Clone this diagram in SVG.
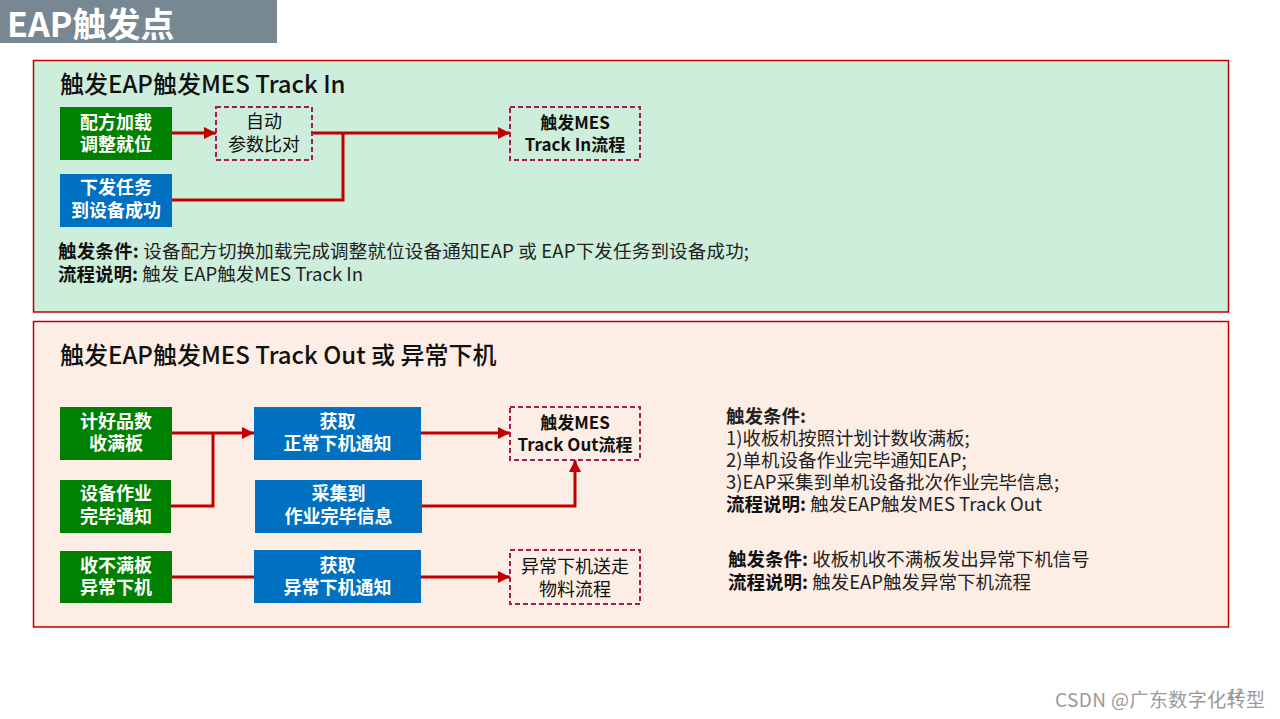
<svg xmlns="http://www.w3.org/2000/svg" width="1280" height="719" viewBox="0 0 1280 719">
<defs>
<style>
.t{font-family:"Noto Sans CJK SC","Liberation Sans",sans-serif;}
.panel{stroke:#c00000;stroke-width:1.5;}
.g{fill:#008000;}
.b{fill:#0070c0;}
.d{fill:none;stroke:#a01e50;stroke-width:2;stroke-dasharray:5,3;}
.wt{fill:#fff;font-size:18px;font-weight:bold;text-anchor:middle;}
.kt{fill:#111;font-size:18px;text-anchor:middle;}
.kb{fill:#111;font-size:17px;font-weight:bold;text-anchor:middle;}
.h{fill:#111;font-size:24px;font-weight:500;}
.p{fill:#222;font-size:18.5px;}
.c{fill:none;stroke:#c00000;stroke-width:3;}
</style>
<marker id="ah" viewBox="0 0 10 10" refX="10" refY="5" markerWidth="4" markerHeight="4" orient="auto" markerUnits="strokeWidth">
<path d="M0,0 L10,5 L0,10 z" fill="#c00000"/>
</marker>
</defs>
<rect width="1280" height="719" fill="#ffffff"/>
<g id="title">
<rect x="0" y="0" width="277" height="43" fill="#788893"/>
<text class="t" x="7" y="37" font-size="34" font-weight="bold" fill="#fff">EAP触发点</text>
</g>
<g id="panel1">
<rect class="panel" x="33.5" y="60.5" width="1195" height="251.5" fill="#cdeedb"/>
<text class="t h" x="60" y="93">触发EAP触发MES Track In</text>
<text class="t p" x="58" y="258" textLength="691" lengthAdjust="spacing"><tspan font-weight="bold" fill="#111">触发条件:</tspan> 设备配方切换加载完成调整就位设备通知EAP 或 EAP下发任务到设备成功;</text>
<text class="t p" x="58" y="281"><tspan font-weight="bold" fill="#111">流程说明:</tspan> 触发 EAP触发MES Track In</text>
</g>
<g id="panel2">
<rect class="panel" x="33.5" y="321.5" width="1195" height="305.5" fill="#fdeee5"/>
<text class="t h" x="60" y="364">触发EAP触发MES Track Out 或 异常下机</text>
<text class="t p" x="726" y="423" font-weight="bold" fill="#111">触发条件:</text>
<text class="t p" x="726" y="445">1)收板机按照计划计数收满板;</text>
<text class="t p" x="726" y="467">2)单机设备作业完毕通知EAP;</text>
<text class="t p" x="726" y="489">3)EAP采集到单机设备批次作业完毕信息;</text>
<text class="t p" x="726" y="511"><tspan font-weight="bold" fill="#111">流程说明:</tspan> 触发EAP触发MES Track Out</text>
<text class="t p" x="728" y="566"><tspan font-weight="bold" fill="#111">触发条件:</tspan> 收板机收不满板发出异常下机信号</text>
<text class="t p" x="728" y="589"><tspan font-weight="bold" fill="#111">流程说明:</tspan> 触发EAP触发异常下机流程</text>
</g>
<g id="connectors">
<line class="c" x1="172" y1="133" x2="216" y2="133" marker-end="url(#ah)"/>
<line class="c" x1="312" y1="133" x2="510" y2="133" marker-end="url(#ah)"/>
<polyline class="c" points="172,200 343,200 343,133"/>
<line class="c" x1="172" y1="433" x2="254" y2="433" marker-end="url(#ah)"/>
<polyline class="c" points="171,506 213,506 213,433"/>
<line class="c" x1="421" y1="433" x2="510" y2="433" marker-end="url(#ah)"/>
<polyline class="c" points="422,506 575,506 575,460" marker-end="url(#ah)"/>
<line class="c" x1="172" y1="577" x2="254" y2="577"/>
<line class="c" x1="421" y1="577" x2="510" y2="577" marker-end="url(#ah)"/>
</g>
<g id="n-recipe">
<rect class="g" x="60" y="107" width="112" height="53"/>
<text class="t wt" x="116" y="129">配方加载</text>
<text class="t wt" x="116" y="151">调整就位</text>
</g>
<g id="n-auto">
<rect class="d" x="216" y="107" width="96" height="53"/>
<text class="t kt" x="264" y="128">自动</text>
<text class="t kt" x="264" y="151">参数比对</text>
</g>
<g id="n-trackin">
<rect class="d" x="510" y="107" width="130" height="53"/>
<text class="t kb" x="575" y="129">触发MES</text>
<text class="t kb" x="575" y="151">Track In流程</text>
</g>
<g id="n-task">
<rect class="b" x="60" y="174" width="112" height="53"/>
<text class="t wt" x="116" y="194">下发任务</text>
<text class="t wt" x="116" y="217">到设备成功</text>
</g>
<g id="n-count">
<rect class="g" x="60" y="407" width="112" height="53"/>
<text class="t wt" x="116" y="428">计好品数</text>
<text class="t wt" x="116" y="450">收满板</text>
</g>
<g id="n-done">
<rect class="g" x="60" y="480" width="111" height="53"/>
<text class="t wt" x="116" y="500">设备作业</text>
<text class="t wt" x="116" y="523">完毕通知</text>
</g>
<g id="n-notfull">
<rect class="g" x="60" y="551" width="112" height="52"/>
<text class="t wt" x="116" y="572">收不满板</text>
<text class="t wt" x="116" y="594">异常下机</text>
</g>
<g id="n-normal">
<rect class="b" x="254" y="407" width="167" height="53"/>
<text class="t wt" x="337.5" y="428">获取</text>
<text class="t wt" x="337.5" y="450">正常下机通知</text>
</g>
<g id="n-collect">
<rect class="b" x="255" y="480" width="167" height="53"/>
<text class="t wt" x="338.5" y="500">采集到</text>
<text class="t wt" x="338.5" y="523">作业完毕信息</text>
</g>
<g id="n-abnormal">
<rect class="b" x="254" y="550" width="167" height="53"/>
<text class="t wt" x="337.5" y="572">获取</text>
<text class="t wt" x="337.5" y="594">异常下机通知</text>
</g>
<g id="n-trackout">
<rect class="d" x="510" y="407" width="130" height="53"/>
<text class="t kb" x="575" y="429">触发MES</text>
<text class="t kb" x="575" y="451">Track Out流程</text>
</g>
<g id="n-material">
<rect class="d" x="510" y="550" width="130" height="54"/>
<text class="t kt" x="575" y="573">异常下机送走</text>
<text class="t kt" x="575" y="596">物料流程</text>
</g>
<g id="footer">
<text class="t" x="1055" y="707" font-size="19" fill="#9a9a9a" textLength="210" lengthAdjust="spacing">CSDN @广东数字化转型</text>
<text class="t" x="1227" y="698" font-size="13" font-style="italic" fill="#8a8a8a">12</text>
</g>
</svg>
